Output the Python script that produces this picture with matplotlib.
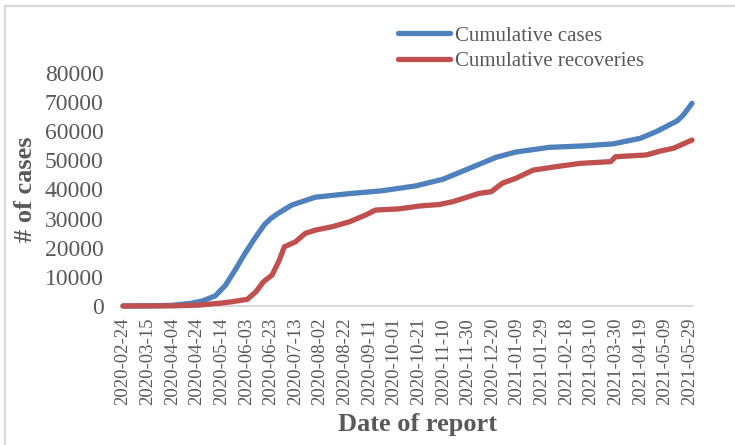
import matplotlib
matplotlib.use("Agg")
import matplotlib.pyplot as plt
from matplotlib.lines import Line2D
import pandas as pd

plt.rcParams['font.family'] = ['Liberation Serif', 'DejaVu Serif']

# ---- data ----
case_dates = ["2020-02-24", "2020-03-15", "2020-04-04", "2020-04-19", "2020-04-29",
              "2020-05-09", "2020-05-17", "2020-05-25", "2020-06-02", "2020-06-10",
              "2020-06-18", "2020-06-23", "2020-06-29", "2020-07-10", "2020-07-29",
              "2020-08-25", "2020-09-21", "2020-10-19", "2020-11-10", "2020-11-29",
              "2020-12-23", "2021-01-08", "2021-02-04", "2021-03-04", "2021-03-28",
              "2021-04-19", "2021-05-02", "2021-05-13", "2021-05-19", "2021-05-24",
              "2021-05-31"]
cases = [0, 30, 250, 900, 1800,
         3500, 7000, 12300, 18000, 23200,
         28000, 30000, 31800, 34600, 37300,
         38500, 39500, 41200, 43500, 46800,
         51000, 52800, 54400, 54900, 55600,
         57500, 59800, 62200, 63500, 65500,
         69500]

rec_dates = ["2020-02-24", "2020-04-04", "2020-04-25", "2020-05-14", "2020-05-23",
             "2020-06-04", "2020-06-11", "2020-06-17", "2020-06-24", "2020-06-30",
             "2020-07-04", "2020-07-13", "2020-07-21", "2020-07-29", "2020-08-12",
             "2020-08-26", "2020-09-08", "2020-09-16", "2020-10-05", "2020-10-22",
             "2020-11-07", "2020-11-18", "2020-12-09", "2020-12-19", "2020-12-28",
             "2021-01-08", "2021-01-22", "2021-02-10", "2021-03-01", "2021-03-26",
             "2021-03-30", "2021-04-24", "2021-05-05", "2021-05-16", "2021-05-31"]
recoveries = [0, 50, 300, 1000, 1500,
              2300, 4900, 8300, 10600, 15800,
              20300, 22000, 24900, 26000, 27200,
              28900, 31200, 32900, 33300, 34300,
              34800, 35800, 38600, 39200, 42100,
              43800, 46600, 47800, 48900, 49500,
              51200, 51800, 53100, 54100, 56900]

tick_labels = ["2020-02-24", "2020-03-15", "2020-04-04", "2020-04-24", "2020-05-14",
               "2020-06-03", "2020-06-23", "2020-07-13", "2020-08-02", "2020-08-22",
               "2020-09-11", "2020-10-01", "2020-10-21", "2020-11-10", "2020-11-30",
               "2020-12-20", "2021-01-09", "2021-01-29", "2021-02-18", "2021-03-10",
               "2021-03-30", "2021-04-19", "2021-05-09", "2021-05-29"]
y_ticks = [0, 10000, 20000, 30000, 40000, 50000, 60000, 70000, 80000]

series_names = ["Cumulative cases", "Cumulative recoveries"]
colors = ["#4F81BD", "#C0504D"]
text_color = "#595959"

# ---- figure ----
W, H = 735, 445
fig = plt.figure(figsize=(W / 100, H / 100), dpi=100)
ax = fig.add_axes([123 / W, 1 - 306 / H, (692 - 123) / W, (306 - 72.7) / H])

cd = pd.to_datetime(case_dates)
rd = pd.to_datetime(rec_dates)
ax.plot(cd, cases, color=colors[0], lw=3.8, solid_capstyle='round',
        solid_joinstyle='round', label=series_names[0], clip_on=False, zorder=3)
ax.plot(rd, recoveries, color=colors[1], lw=3.8, solid_capstyle='round',
        solid_joinstyle='round', label=series_names[1], clip_on=False, zorder=3)

ax.set_xlim(pd.Timestamp("2020-02-24"), pd.Timestamp("2021-05-31"))
ax.set_ylim(0, 80000)

ax.set_xticks(pd.to_datetime(tick_labels))
ax.set_xticklabels(tick_labels, rotation=90, fontsize=13.5, color=text_color)
ax.set_yticks(y_ticks)
ax.set_yticklabels([str(v) for v in y_ticks], fontsize=17, color=text_color)
ax.tick_params(axis='both', length=0)
ax.tick_params(axis='x', pad=8.5)
ax.tick_params(axis='y', pad=14)

for s in ['top', 'right', 'left']:
    ax.spines[s].set_visible(False)
ax.spines['bottom'].set_color('#D9D9D9')
ax.spines['bottom'].set_linewidth(1.5)

# axis titles
fig.text(417 / W, 1 - 425 / H, "Date of report", ha='center', va='center',
         fontsize=19, fontweight='bold', color=text_color)
fig.text(26 / W, 1 - 189 / H, "# of cases", ha='center', va='center',
         rotation=90, fontsize=19, fontweight='bold', color=text_color)

# legend
leg = ax.legend(loc='upper left', bbox_to_anchor=(398 / W, 1 - 26 / H),
                bbox_transform=fig.transFigure, frameon=False,
                fontsize=15, handlelength=2.5, handletextpad=0.25,
                labelspacing=0.28, borderpad=0, borderaxespad=0)
for t in leg.get_texts():
    t.set_color(text_color)

# chart-area border (top and left visible)
fig.add_artist(Line2D([5 / W, 5 / W], [0, 1 - 6 / H], transform=fig.transFigure,
                      color='#D9D9D9', lw=1.6))
fig.add_artist(Line2D([5 / W, 1], [1 - 6 / H, 1 - 6 / H], transform=fig.transFigure,
                      color='#D9D9D9', lw=1.6))

fig.savefig("out.png", dpi=100)
